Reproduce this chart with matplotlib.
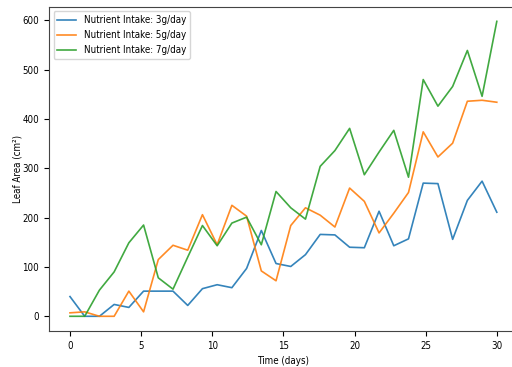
import numpy as np
import matplotlib
matplotlib.use("Agg")
import matplotlib.pyplot as plt

# growth measurements over 30 days
days = np.linspace(0, 30, 30)
area_3g = [40, 0, 0, 24, 18, 51, 51, 51, 22, 56, 64, 58, 97, 174, 107, 101, 125, 166, 165, 140,
           139, 213, 143, 157, 270, 269, 156, 235, 274, 211]
area_5g = [7, 9, 0, 0, 51, 9, 115, 144, 134, 206, 145, 225, 203, 92, 72, 184, 220, 205, 181, 260,
           233, 169, 209, 251, 374, 323, 351, 436, 438, 434]
area_7g = [0, 0, 53, 90, 149, 185, 78, 55, 120, 184, 143, 189, 201, 145, 253, 220, 197, 304, 336, 381,
           287, 333, 377, 282, 480, 426, 466, 539, 446, 598]
labels = ["Nutrient Intake: 3g/day", "Nutrient Intake: 5g/day", "Nutrient Intake: 7g/day"]

plt.rcParams["font.size"] = 7
plt.rcParams["font.stretch"] = "condensed"

fig = plt.figure(figsize=(5.12, 3.67), dpi=100)
ax = fig.add_axes([0.095, 0.098, 0.917, 0.884])

for series, lab in zip([area_3g, area_5g, area_7g], labels):
    ax.plot(days, series, label=lab, linewidth=1.2, alpha=0.9)

for sp in ax.spines.values():
    sp.set_color("#444444")

ax.set_xlabel("Time (days)")
ax.set_ylabel("Leaf Area (cm²)")
ax.yaxis.set_label_coords(-0.056, 0.5)
ax.legend(loc="upper left", handlelength=1.9)

fig.savefig("out.png")
